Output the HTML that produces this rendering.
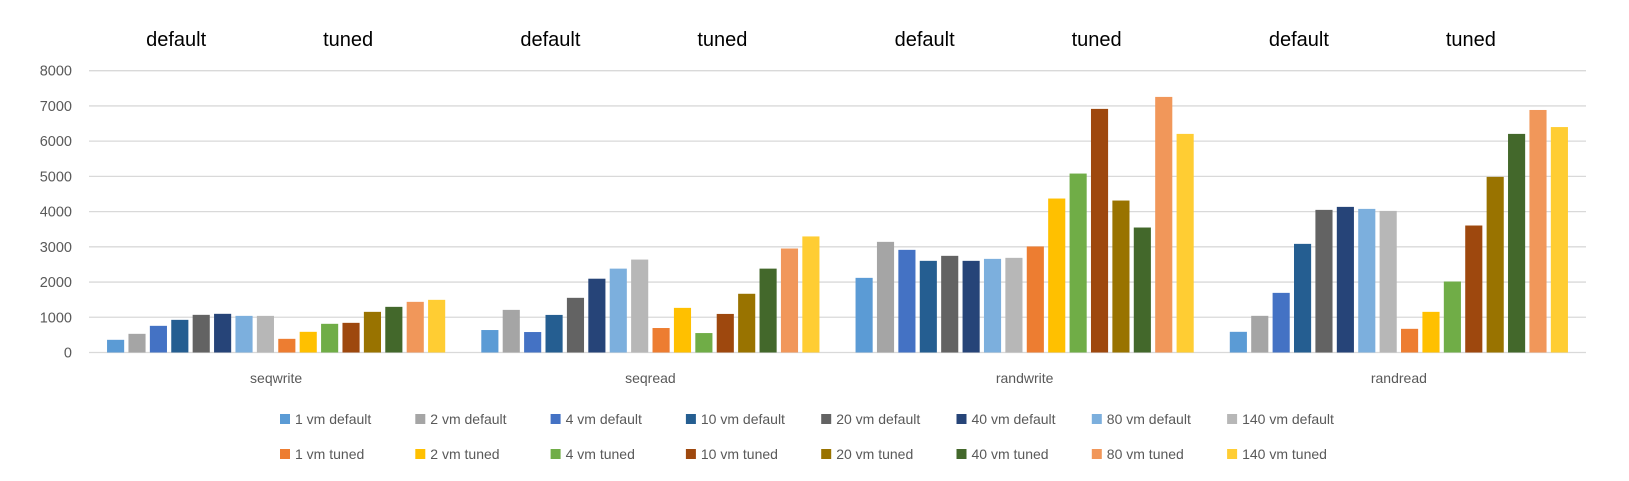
<!DOCTYPE html>
<html><head><meta charset="utf-8"><style>
html,body{margin:0;padding:0;background:#fff;}
svg{display:block;font-family:"Liberation Sans",sans-serif;}
</style></head><body>
<svg id="chart" width="1629" height="481" viewBox="0 0 1629 481" xmlns="http://www.w3.org/2000/svg"></svg>
<script>
const categories = ["seqwrite","seqread","randwrite","randread"];
const seriesNames = ["1 vm default","2 vm default","4 vm default","10 vm default","20 vm default","40 vm default","80 vm default","140 vm default","1 vm tuned","2 vm tuned","4 vm tuned","10 vm tuned","20 vm tuned","40 vm tuned","80 vm tuned","140 vm tuned"];
const seriesColors = ["#5B9BD5","#A5A5A5","#4472C4","#255E91","#636363","#264478","#7CAFDD","#B7B7B7","#ED7D31","#FFC000","#70AD47","#9E480E","#997300","#43682B","#F1975A","#FFCD33"];
const seqwrite = [360,530,757,927,1069,1098,1040,1040,388,587,814,842,1154,1296,1438,1495];
const seqread = [638,1210,581,1067,1552,2095,2381,2638,695,1267,552,1095,1667,2381,2952,3295];
const randwrite = [2119,3141,2914,2602,2744,2602,2658,2687,3010,4371,5080,6916,4314,3548,7256,6206];
const randread = [587,1041,1693,3084,4049,4134,4077,4020,672,1154,2015,3605,4986,6206,6885,6400];
const yTicks = [0,1000,2000,3000,4000,5000,6000,7000,8000];
const groupTitles = ["default","tuned"];
const values = [seqwrite,seqread,randwrite,randread];

const svg = document.getElementById('chart');
const NS = "http://www.w3.org/2000/svg";
const X0 = 89, X1 = 1586, Y0 = 352.5, Y1 = 70.7, YMAX = 8000;
const groupW = (X1 - X0) / categories.length;
const y = v => Y0 - (v / YMAX) * (Y0 - Y1);
const band = groupW * 0.915 / seriesNames.length;
const barW = band * 0.8;
const barX = (g, s) => X0 + g * groupW + (groupW - band * seriesNames.length) / 2 + s * band + (band - barW) / 2;
function mk(tag, attrs, text) {
  const e = document.createElementNS(NS, tag);
  for (const k in attrs) e.setAttribute(k, attrs[k]);
  if (text !== undefined) e.textContent = text;
  svg.appendChild(e);
  return e;
}
yTicks.forEach(t => {
  const l = mk('line', {x1: X0, x2: X1, y1: y(t), y2: y(t), stroke: '#D9D9D9', 'stroke-width': 1.3});
  
  
  const tx = mk('text', {x: 72, y: y(t) + 5, 'text-anchor': 'end', 'font-size': 14.5, fill: '#595959'}, String(t));
  
  
});
categories.forEach((c, g) => {
  const cx = X0 + (g + 0.5) * groupW;
  values[g].forEach((v, s) => {
    const r = mk('rect', {x: barX(g, s), y: y(v), width: barW, height: Y0 - y(v), fill: seriesColors[s]});
    
    
  });
  const cl = mk('text', {x: cx, y: 383, 'text-anchor': 'middle', 'font-size': 14, fill: '#595959'}, c);
  
  
  groupTitles.forEach((t, i) => {
    const tt = mk('text', {x: cx + (i === 0 ? -100 : 72), y: 46, 'text-anchor': 'middle', 'font-size': 20, fill: '#000'}, t);
    
    
  });
});
seriesNames.forEach((n, s) => {
  const row = Math.floor(s / 8), col = s % 8;
  const lx = 280 + col * 135.3, ly = 419 + row * 35;
  const m = mk('rect', {x: lx, y: ly - 5, width: 10, height: 10, fill: seriesColors[s]});
  
  
  const t = mk('text', {x: lx + 15, y: ly + 5, 'font-size': 14, fill: '#595959'}, n);
  
  
});
</script>
</body></html>
